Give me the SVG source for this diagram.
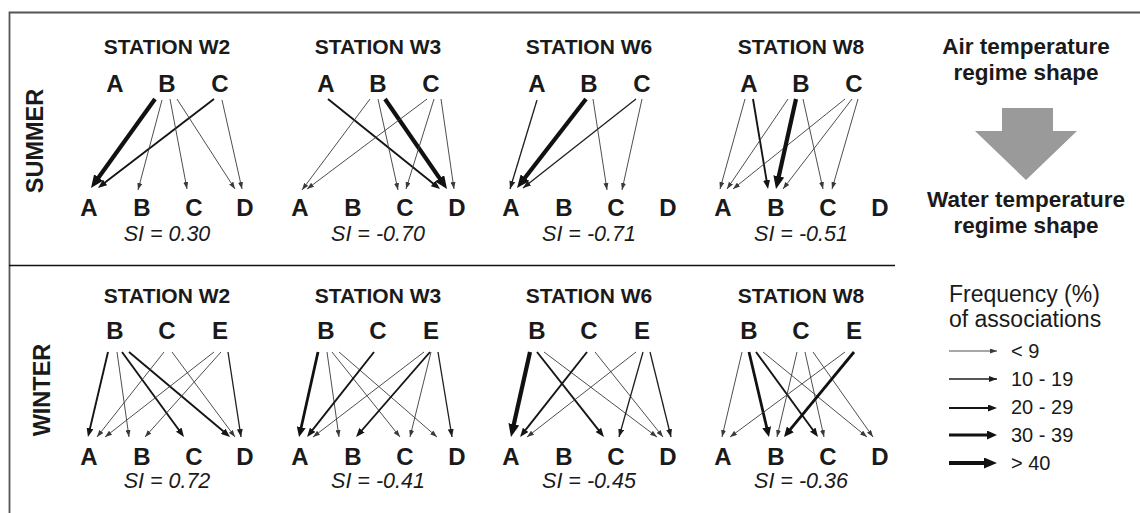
<svg xmlns="http://www.w3.org/2000/svg" width="1140" height="513" viewBox="0 0 1140 513">
<style>
text{font-family:"Liberation Sans",Arial,sans-serif;fill:#1a1a1a}
.t{font-size:21px;font-weight:bold;text-anchor:middle}
.n{font-size:24px;font-weight:bold;text-anchor:middle}
.si{font-size:21.5px;font-style:italic;text-anchor:middle}
.h{font-size:22.5px;font-weight:bold;text-anchor:middle}
.lg{font-size:23px}
.lv{font-size:20px}
.season{font-size:23.5px;font-weight:bold;text-anchor:middle}
line{fill:none}
.c1{stroke:#3a3a3a;stroke-width:0.9;marker-end:url(#m1)}
.c2{stroke:#1e1e1e;stroke-width:1.3;marker-end:url(#m2)}
.c3{stroke:#151515;stroke-width:1.9;marker-end:url(#m3)}
.c4{stroke:#111;stroke-width:2.8;marker-end:url(#m4)}
.c5{stroke:#111;stroke-width:4.2;marker-end:url(#m5)}
</style>
<defs>
<marker id="m1" markerUnits="userSpaceOnUse" orient="auto" markerWidth="7" markerHeight="5" refX="7" refY="2.5"><path d="M0,0 L7,2.5 L0,5 z" fill="#3a3a3a"/></marker>
<marker id="m2" markerUnits="userSpaceOnUse" orient="auto" markerWidth="8" markerHeight="6" refX="8" refY="3"><path d="M0,0 L8,3 L0,6 z" fill="#1e1e1e"/></marker>
<marker id="m3" markerUnits="userSpaceOnUse" orient="auto" markerWidth="9" markerHeight="7" refX="1" refY="3.5"><path d="M0,0 L9,3.5 L0,7 z" fill="#151515"/></marker>
<marker id="m4" markerUnits="userSpaceOnUse" orient="auto" markerWidth="10" markerHeight="9" refX="1" refY="4.5"><path d="M0,0 L10,4.5 L0,9 z" fill="#111"/></marker>
<marker id="m5" markerUnits="userSpaceOnUse" orient="auto" markerWidth="13" markerHeight="11" refX="1" refY="5.5"><path d="M0,0 L13,5.5 L0,11 z" fill="#111"/></marker>
</defs>
<rect width="1140" height="513" fill="#fff"/>
<g id="frame" fill="none">
<path d="M9.5,513 V12.5 H1140" stroke="#555" stroke-width="1.8"/>
<line x1="9" y1="265.5" x2="895" y2="265.5" stroke="#111" stroke-width="1.4"/>
</g>
<g id="season-labels">
<text class="season" transform="translate(43,141) rotate(-90)">SUMMER</text>
<text class="season" transform="translate(50,390) rotate(-90)">WINTER</text>
</g>

<!-- SUMMER W2 -->
<g id="summer-w2">
<text class="t" x="167" y="54">STATION W2</text>
<g id="s-w2-air-A"><text class="n" x="115" y="92">A</text></g>
<g id="s-w2-air-B"><text class="n" x="167" y="92">B</text></g>
<g id="s-w2-air-C"><text class="n" x="220" y="92">C</text></g>
<g id="s-w2-water-A"><text class="n" x="89" y="216">A</text></g>
<g id="s-w2-water-B"><text class="n" x="142" y="216">B</text></g>
<g id="s-w2-water-C"><text class="n" x="194" y="216">C</text></g>
<g id="s-w2-water-D"><text class="n" x="245" y="216">D</text></g>
<text class="si" x="167" y="241">SI = 0.30</text>
</g>
<!-- SUMMER W3 -->
<g id="summer-w3">
<text class="t" x="378" y="54">STATION W3</text>
<g id="s-w3-air-A"><text class="n" x="326" y="92">A</text></g>
<g id="s-w3-air-B"><text class="n" x="378" y="92">B</text></g>
<g id="s-w3-air-C"><text class="n" x="431" y="92">C</text></g>
<g id="s-w3-water-A"><text class="n" x="300" y="216">A</text></g>
<g id="s-w3-water-B"><text class="n" x="353" y="216">B</text></g>
<g id="s-w3-water-C"><text class="n" x="405" y="216">C</text></g>
<g id="s-w3-water-D"><text class="n" x="457" y="216">D</text></g>
<text class="si" x="378" y="241">SI = -0.70</text>
</g>
<!-- SUMMER W6 -->
<g id="summer-w6">
<text class="t" x="589" y="54">STATION W6</text>
<g id="s-w6-air-A"><text class="n" x="537" y="92">A</text></g>
<g id="s-w6-air-B"><text class="n" x="589" y="92">B</text></g>
<g id="s-w6-air-C"><text class="n" x="642" y="92">C</text></g>
<g id="s-w6-water-A"><text class="n" x="511" y="216">A</text></g>
<g id="s-w6-water-B"><text class="n" x="564" y="216">B</text></g>
<g id="s-w6-water-C"><text class="n" x="616" y="216">C</text></g>
<g id="s-w6-water-D"><text class="n" x="668" y="216">D</text></g>
<text class="si" x="589" y="241">SI = -0.71</text>
</g>
<!-- SUMMER W8 -->
<g id="summer-w8">
<text class="t" x="801" y="54">STATION W8</text>
<g id="s-w8-air-A"><text class="n" x="749" y="92">A</text></g>
<g id="s-w8-air-B"><text class="n" x="801" y="92">B</text></g>
<g id="s-w8-air-C"><text class="n" x="854" y="92">C</text></g>
<g id="s-w8-water-A"><text class="n" x="723" y="216">A</text></g>
<g id="s-w8-water-B"><text class="n" x="776" y="216">B</text></g>
<g id="s-w8-water-C"><text class="n" x="828" y="216">C</text></g>
<g id="s-w8-water-D"><text class="n" x="880" y="216">D</text></g>
<text class="si" x="801" y="241">SI = -0.51</text>
</g>

<!-- WINTER -->
<g id="winter-w2">
<text class="t" x="167" y="303">STATION W2</text>
<g id="w-w2-air-B"><text class="n" x="115" y="339">B</text></g>
<g id="w-w2-air-C"><text class="n" x="167" y="339">C</text></g>
<g id="w-w2-air-E"><text class="n" x="220" y="339">E</text></g>
<g id="w-w2-water-A"><text class="n" x="89" y="465">A</text></g>
<g id="w-w2-water-B"><text class="n" x="142" y="465">B</text></g>
<g id="w-w2-water-C"><text class="n" x="194" y="465">C</text></g>
<g id="w-w2-water-D"><text class="n" x="245" y="465">D</text></g>
<text class="si" x="167" y="488">SI = 0.72</text>
</g>
<g id="winter-w3">
<text class="t" x="378" y="303">STATION W3</text>
<g id="w-w3-air-B"><text class="n" x="326" y="339">B</text></g>
<g id="w-w3-air-C"><text class="n" x="378" y="339">C</text></g>
<g id="w-w3-air-E"><text class="n" x="431" y="339">E</text></g>
<g id="w-w3-water-A"><text class="n" x="300" y="465">A</text></g>
<g id="w-w3-water-B"><text class="n" x="353" y="465">B</text></g>
<g id="w-w3-water-C"><text class="n" x="405" y="465">C</text></g>
<g id="w-w3-water-D"><text class="n" x="457" y="465">D</text></g>
<text class="si" x="378" y="488">SI = -0.41</text>
</g>
<g id="winter-w6">
<text class="t" x="589" y="303">STATION W6</text>
<g id="w-w6-air-B"><text class="n" x="537" y="339">B</text></g>
<g id="w-w6-air-C"><text class="n" x="589" y="339">C</text></g>
<g id="w-w6-air-E"><text class="n" x="642" y="339">E</text></g>
<g id="w-w6-water-A"><text class="n" x="511" y="465">A</text></g>
<g id="w-w6-water-B"><text class="n" x="564" y="465">B</text></g>
<g id="w-w6-water-C"><text class="n" x="616" y="465">C</text></g>
<g id="w-w6-water-D"><text class="n" x="668" y="465">D</text></g>
<text class="si" x="589" y="488">SI = -0.45</text>
</g>
<g id="winter-w8">
<text class="t" x="801" y="303">STATION W8</text>
<g id="w-w8-air-B"><text class="n" x="749" y="339">B</text></g>
<g id="w-w8-air-C"><text class="n" x="801" y="339">C</text></g>
<g id="w-w8-air-E"><text class="n" x="854" y="339">E</text></g>
<g id="w-w8-water-A"><text class="n" x="723" y="465">A</text></g>
<g id="w-w8-water-B"><text class="n" x="776" y="465">B</text></g>
<g id="w-w8-water-C"><text class="n" x="828" y="465">C</text></g>
<g id="w-w8-water-D"><text class="n" x="880" y="465">D</text></g>
<text class="si" x="801" y="488">SI = -0.36</text>
</g>

<g id="connectors">
<!-- summer W2 -->
<line class="c5" x1="155" y1="99" x2="98" y2="178.3"/>
<line class="c3" x1="214" y1="99" x2="104.3" y2="183.1"/>
<line class="c1" x1="162" y1="100" x2="138" y2="190"/>
<line class="c1" x1="170" y1="99" x2="187" y2="189"/>
<line class="c1" x1="177" y1="99" x2="235" y2="189"/>
<line class="c1" x1="222" y1="100" x2="242" y2="189"/>
<!-- summer W3 -->
<line class="c3" x1="328" y1="99" x2="433.8" y2="184"/>
<line class="c5" x1="385" y1="99" x2="440.2" y2="179.1"/>
<line class="c1" x1="370" y1="99" x2="302" y2="190"/>
<line class="c1" x1="427" y1="99" x2="307" y2="189"/>
<line class="c1" x1="378" y1="99" x2="398" y2="190"/>
<line class="c1" x1="434" y1="99" x2="406" y2="189"/>
<line class="c1" x1="441" y1="99" x2="454" y2="189"/>
<!-- summer W6 -->
<line class="c2" x1="537" y1="100" x2="510" y2="189"/>
<line class="c5" x1="586" y1="99" x2="524.4" y2="178.5"/>
<line class="c2" x1="636" y1="99" x2="523" y2="188"/>
<line class="c1" x1="593" y1="99" x2="607" y2="190"/>
<line class="c1" x1="642" y1="99" x2="622" y2="190"/>
<!-- summer W8 -->
<line class="c1" x1="745" y1="99" x2="720" y2="189"/>
<line class="c3" x1="753" y1="99" x2="766.7" y2="181.1"/>
<line class="c1" x1="788" y1="99" x2="727" y2="189"/>
<line class="c1" x1="845" y1="99" x2="733" y2="189"/>
<line class="c5" x1="796" y1="99" x2="778.6" y2="177.3"/>
<line class="c1" x1="852" y1="99" x2="783" y2="189"/>
<line class="c1" x1="803" y1="99" x2="823" y2="189"/>
<line class="c1" x1="858" y1="99" x2="832" y2="189"/>
<!-- winter W2 -->
<line class="c3" x1="108" y1="352" x2="89.8" y2="429.2"/>
<line class="c1" x1="117" y1="352" x2="129" y2="437"/>
<line class="c3" x1="122" y1="352" x2="179.3" y2="430.5"/>
<line class="c3" x1="129" y1="352" x2="223.9" y2="431.8"/>
<line class="c1" x1="164" y1="352" x2="97" y2="437"/>
<line class="c1" x1="172" y1="352" x2="235" y2="437"/>
<line class="c1" x1="214" y1="352" x2="105" y2="437"/>
<line class="c1" x1="221" y1="352" x2="145" y2="437"/>
<line class="c2" x1="228" y1="352" x2="241" y2="437"/>
<!-- winter W3 -->
<line class="c4" x1="318" y1="352" x2="301" y2="428.2"/>
<line class="c1" x1="327" y1="352" x2="339" y2="437"/>
<line class="c1" x1="332" y1="352" x2="400" y2="437"/>
<line class="c1" x1="339" y1="352" x2="437" y2="437"/>
<line class="c3" x1="374" y1="352" x2="312" y2="430.7"/>
<line class="c1" x1="424" y1="352" x2="313" y2="437"/>
<line class="c3" x1="430" y1="352" x2="361.3" y2="431"/>
<line class="c1" x1="431" y1="352" x2="410" y2="437"/>
<line class="c2" x1="438" y1="352" x2="452" y2="437"/>
<!-- winter W6 -->
<line class="c5" x1="530" y1="352" x2="513.6" y2="425.3"/>
<line class="c3" x1="537" y1="352" x2="599" y2="430.7"/>
<line class="c1" x1="544" y1="352" x2="657" y2="437"/>
<line class="c3" x1="587" y1="352" x2="525" y2="430.7"/>
<line class="c1" x1="595" y1="352" x2="663" y2="437"/>
<line class="c1" x1="636" y1="352" x2="527" y2="437"/>
<line class="c2" x1="643" y1="352" x2="619" y2="437"/>
<line class="c2" x1="650" y1="352" x2="671" y2="437"/>
<!-- winter W8 -->
<line class="c1" x1="742" y1="352" x2="722" y2="437"/>
<line class="c4" x1="749" y1="352" x2="766.9" y2="428.2"/>
<line class="c3" x1="756" y1="352" x2="813.3" y2="430.5"/>
<line class="c1" x1="763" y1="352" x2="867" y2="437"/>
<line class="c1" x1="797" y1="352" x2="777" y2="437"/>
<line class="c1" x1="805" y1="352" x2="824" y2="437"/>
<line class="c1" x1="813" y1="352" x2="873" y2="437"/>
<line class="c1" x1="845" y1="352" x2="730" y2="437"/>
<line class="c4" x1="854" y1="352" x2="789.7" y2="430.1"/>
</g>

<g id="regime-key">
<text class="h" x="1026" y="54">Air temperature</text>
<text class="h" x="1026" y="80">regime shape</text>
<path d="M1002,108 H1053 V131 H1077 L1026,180 L975,131 H1002 Z" fill="#9a9a9a"/>
<text class="h" x="1026" y="207">Water temperature</text>
<text class="h" x="1026" y="233">regime shape</text>
</g>
<g id="legend">
<text class="lg" x="949" y="302">Frequency (%)</text>
<text class="lg" x="949" y="327">of associations</text>
<line class="c1" x1="949" y1="351" x2="997" y2="351"/>
<line class="c2" x1="949" y1="379" x2="997" y2="379"/>
<line class="c3" x1="949" y1="408" x2="989" y2="408"/>
<line class="c4" x1="949" y1="435" x2="988" y2="435"/>
<line class="c5" x1="949" y1="463" x2="985" y2="463"/>
<text class="lv" x="1011" y="358">&lt; 9</text>
<text class="lv" x="1011" y="386">10 - 19</text>
<text class="lv" x="1011" y="414">20 - 29</text>
<text class="lv" x="1011" y="442">30 - 39</text>
<text class="lv" x="1011" y="470">&gt; 40</text>
</g>
</svg>
